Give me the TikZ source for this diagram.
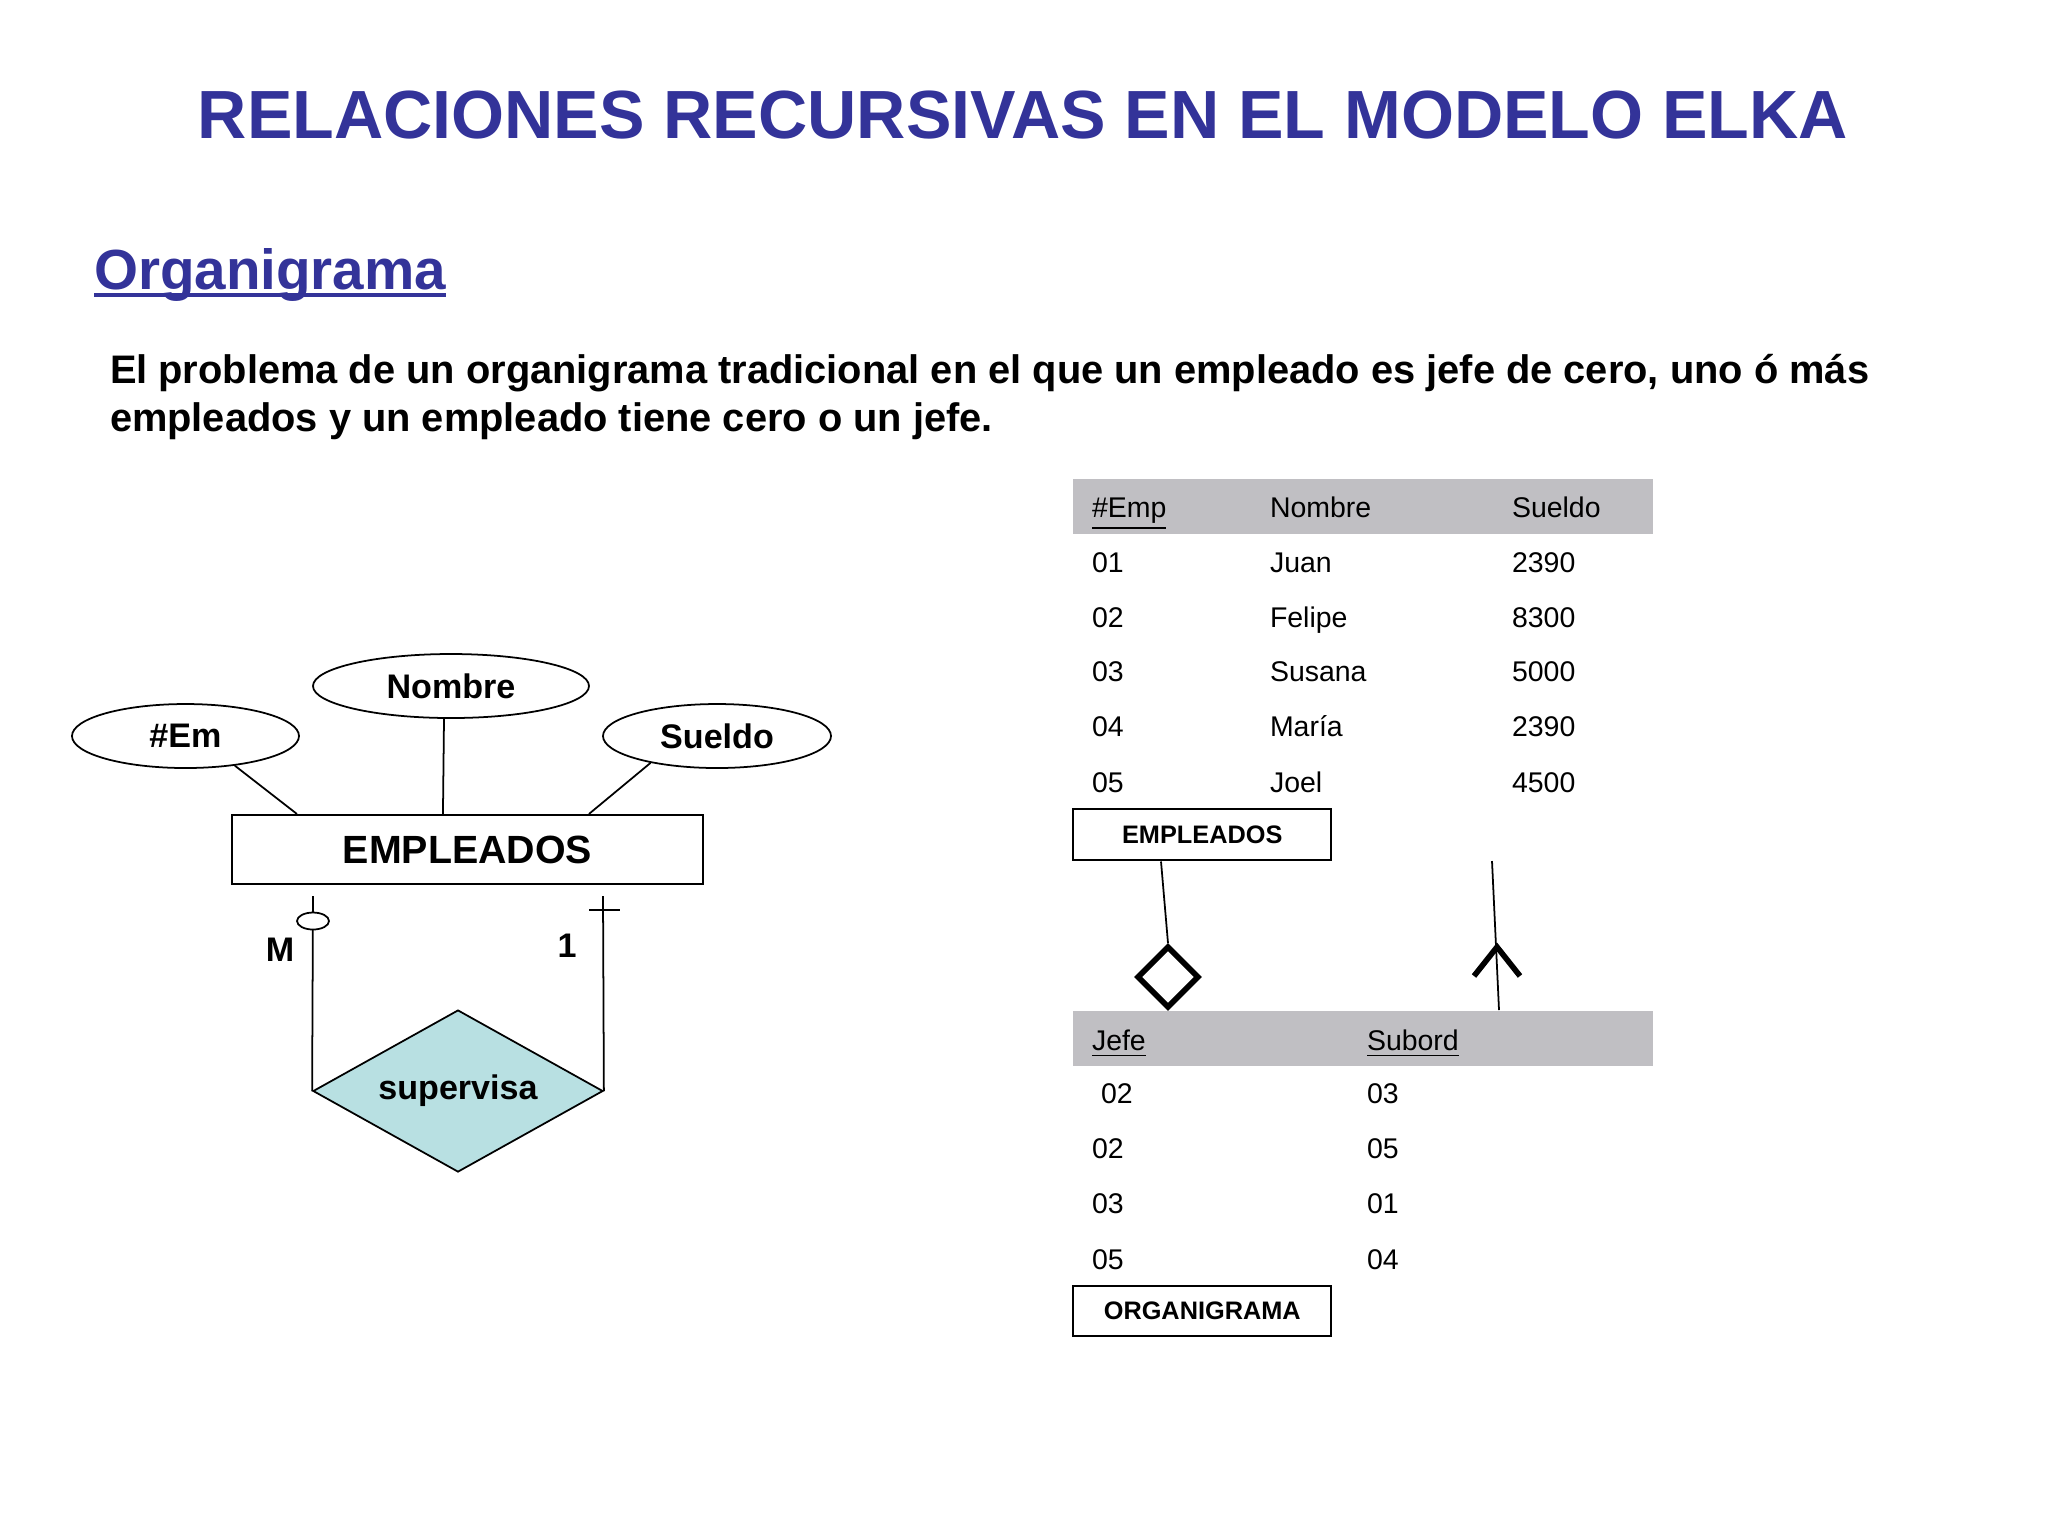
\documentclass[tikz,border=0pt]{standalone}
\usepackage{fontspec}
\setmainfont{Liberation Sans}
\usetikzlibrary{shapes.geometric,calc}
\definecolor{titleblue}{RGB}{51,51,153}
\definecolor{relfill}{RGB}{184,224,226}
\definecolor{hdrgray}{RGB}{192,191,195}
\begin{document}
\begin{tikzpicture}[x=0.1mm,y=-0.1mm,
  txt/.style={inner sep=0pt,outer sep=0pt},
  attr/.style={ellipse,draw,line width=0.5pt,inner sep=0pt,minimum height=6.4mm,font=\fontsize{9.7pt}{11pt}\selectfont\bfseries},
  entity/.style={rectangle,draw,line width=0.6pt,inner sep=0pt,font=\fontsize{11.2pt}{13pt}\selectfont\bfseries},
  card/.style={txt,font=\fontsize{9.7pt}{11pt}\selectfont\bfseries},
  cell/.style={txt,anchor=base west,font=\fontsize{8.1pt}{9.7pt}\selectfont},
  tname/.style={rectangle,draw,line width=0.7pt,inner sep=0pt,minimum width=25.8mm,font=\fontsize{7.2pt}{8.6pt}\selectfont\bfseries},
  hdr/.style={rectangle,fill=hdrgray,inner sep=0pt,minimum width=58mm,minimum height=5.5mm,anchor=north west},
  conn/.style={line width=0.5pt},
  thick/.style={line width=1.6pt,line join=miter}
]
\useasboundingbox[fill=white] (0,0) rectangle (2048,1536);

% Title and text
\node[txt,anchor=base,text=titleblue,font=\fontsize{19.4pt}{23pt}\selectfont\bfseries] (title) at (1023,138) {RELACIONES RECURSIVAS EN EL MODELO ELKA};
\node[txt,anchor=base west,text=titleblue,font=\fontsize{16.1pt}{19pt}\selectfont\bfseries] (sub) at (94,289) {Organigrama};
\draw[titleblue,line width=1.1pt] ([yshift=-1.6pt]sub.base west) -- ([yshift=-1.6pt]sub.base east);
\node[txt,anchor=base west,font=\fontsize{11.33pt}{13.6pt}\selectfont\bfseries] (p1) at (110,383) {El problema de un organigrama tradicional en el que un empleado es jefe de cero, uno ó más};
\node[txt,anchor=base west,font=\fontsize{11.33pt}{13.6pt}\selectfont\bfseries] (p2) at (110,431) {empleados y un empleado tiene cero o un jefe.};

% ER diagram
\node[attr,minimum width=22.7mm] (em) at (185.5,736) {\#Em};
\node[attr,minimum width=27.6mm] (nom) at (451,686) {Nombre};
\node[attr,minimum width=22.8mm] (sue) at (717,736) {Sueldo};
\node[entity,minimum width=47.1mm,minimum height=6.9mm] (ent) at (467.5,849.5) {EMPLEADOS};
\node[diamond,draw,line width=0.5pt,fill=relfill,inner sep=0pt,shape aspect=1.8,minimum width=29mm,minimum height=16.2mm,font=\fontsize{9.7pt}{11pt}\selectfont\bfseries] (rel) at (458,1091) {supervisa};

\draw[conn] (em.-31) -- ($(ent.north west)+(66,0)$);
\draw[conn] ($(nom.south)+(-7,0)$) -- ($(ent.north west)+(212,0)$);
\draw[conn] (sue.202) -- ($(ent.north west)+(358,0)$);

\coordinate (lt) at (313,896);
\coordinate (rt) at (603,896);
\draw[conn] (lt) -- (rel.west);
\draw[conn] (rt) -- (rel.east);
\node[ellipse,draw,line width=0.5pt,fill=white,inner sep=0pt,minimum width=3.2mm,minimum height=1.7mm] (oc) at (313,921) {};
\draw[conn] (589,910) -- (620,910);
\node[card] (cm) at (280,950) {M};
\node[card] (c1) at (567,946) {1};

% Table EMPLEADOS
\node[hdr] (h1) at (1072,478) {};
\node[cell] (h1a) at (1092,517) {\underline{\#Emp}};
\node[cell] (h1b) at (1270,517) {Nombre};
\node[cell] (h1c) at (1512,517) {Sueldo};
\node[cell] at (1092,572) {01}; \node[cell] at (1270,572) {Juan};   \node[cell] at (1512,572) {2390};
\node[cell] at (1092,627) {02}; \node[cell] at (1270,627) {Felipe}; \node[cell] at (1512,627) {8300};
\node[cell] at (1092,681) {03}; \node[cell] at (1270,681) {Susana}; \node[cell] at (1512,681) {5000};
\node[cell] at (1092,736) {04}; \node[cell] at (1270,736) {María};  \node[cell] at (1512,736) {2390};
\node[cell] at (1092,792) {05}; \node[cell] at (1270,792) {Joel};   \node[cell] at (1512,792) {4500};
\node[tname,minimum height=5.1mm,anchor=north west] (emp2) at (1072,808) {EMPLEADOS};

% Table ORGANIGRAMA
\node[hdr] (h2) at (1072,1010) {};
\node[cell] (h2a) at (1092,1050) {\underline{Jefe}};
\node[cell] (h2b) at (1367,1050) {\underline{Subord}};
\node[cell] at (1101,1103) {02}; \node[cell] at (1367,1103) {03};
\node[cell] at (1092,1158) {02}; \node[cell] at (1367,1158) {05};
\node[cell] at (1092,1213) {03}; \node[cell] at (1367,1213) {01};
\node[cell] at (1092,1269) {05}; \node[cell] at (1367,1269) {04};
\node[tname,minimum height=5mm,anchor=north west] (org) at (1072,1285) {ORGANIGRAMA};

% Links between tables
\node[diamond,draw,thick,inner sep=0pt,minimum width=6.2mm,minimum height=6.2mm] (dia) at (1168,977) {};
\draw[conn] ($(emp2.south west)+(89,0)$) -- (dia.north);
\coordinate (rtop) at (1492,861);
\coordinate (rbot) at (1499,1010);
\draw[conn] (rtop) -- (rbot);
\draw[thick] (1474,976) -- (1497,947) -- (1520,976);
\end{tikzpicture}
\end{document}
